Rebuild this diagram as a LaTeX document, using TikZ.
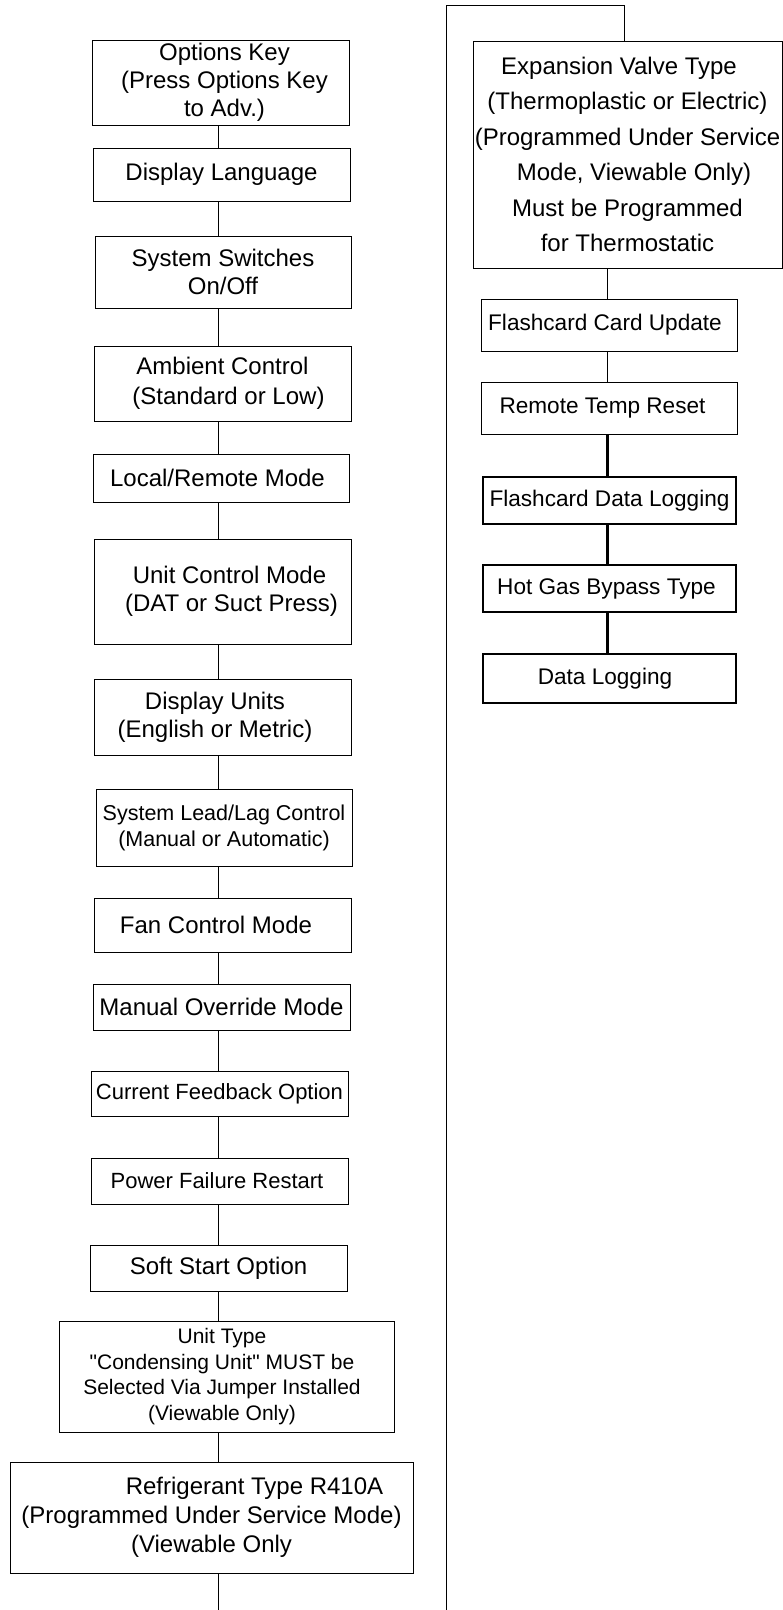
\documentclass[tikz,border=0pt]{standalone}
\usepackage{fontspec}
\setmainfont{Liberation Sans}

\newcommand{\lpad}[2]{\mbox{\hspace{#1}#2}}
\newcommand{\rpad}[2]{\mbox{#2\hspace{#1}}}

\begin{document}
\begin{tikzpicture}[x=1pt, y=-1pt,
    box/.style={draw, line width=1pt, inner sep=0pt, align=center, font=\fontsize{24}{28}\selectfont},
    thickbox/.style={box, line width=2.2pt, font=\fontsize{22.6}{28}\selectfont},
    link/.style={line width=1pt},
    thicklink/.style={line width=2.2pt}]
  \useasboundingbox (0,0) rectangle (783,1610);

  % left column
  \node[box, minimum width=257, minimum height=85] (opt) at (220.5,82.5)
    {\lpad{8pt}{Options Key}\\\lpad{8pt}{(Press Options Key}\\\lpad{8pt}{to Adv.)}};
  \node[box, minimum width=257, minimum height=53] (lang) at (221.5,174.5) {Display Language};
  \node[box, minimum width=256, minimum height=72] (sw) at (223,272) {System Switches\\On/Off};
  \node[box, minimum width=257, minimum height=75, font=\fontsize{24}{30}\selectfont] (amb) at (222.5,383.5)
    {Ambient Control\\\lpad{12pt}{(Standard or Low)}};
  \node[box, minimum width=256, minimum height=48] (loc) at (221,478) {\rpad{7pt}{Local/Remote Mode}};
  \node[box, minimum width=257, minimum height=105] (ucm) at (222.5,591.5)
    {\lpad{14pt}{Unit Control Mode}\\\lpad{18pt}{(DAT or Suct Press)}};
  \node[box, minimum width=257, minimum height=76] (du) at (222.5,717)
    {\rpad{15pt}{Display Units}\\\rpad{15pt}{(English or Metric)}};
  \node[box, minimum width=256, minimum height=77, font=\fontsize{21.5}{26}\selectfont] (lag) at (224,827.5)
    {System Lead/Lag Control\\(Manual or Automatic)};
  \node[box, minimum width=257, minimum height=54] (fan) at (222.5,925) {\rpad{13pt}{Fan Control Mode}};
  \node[box, minimum width=257, minimum height=46] (mor) at (221.5,1007) {Manual Override Mode};
  \node[box, minimum width=257, minimum height=45, font=\fontsize{22}{28}\selectfont] (cfo) at (219.5,1093.5)
    {Current Feedback Option};
  \node[box, minimum width=257, minimum height=46, font=\fontsize{22}{28}\selectfont] (pfr) at (219.5,1181)
    {\rpad{5pt}{Power Failure Restart}};
  \node[box, minimum width=257, minimum height=46] (sso) at (218.5,1268) {Soft Start Option};
  \node[box, minimum width=335, minimum height=111, font=\fontsize{21}{25.5}\selectfont] (ut) at (226.5,1376.5)
    {\rpad{9pt}{Unit Type}\\\rpad{9pt}{\textquotedbl Condensing Unit\textquotedbl{} MUST be}\\\rpad{9pt}{Selected Via Jumper Installed}\\\rpad{9pt}{(Viewable Only)}};
  \node[box, minimum width=403, minimum height=111, font=\fontsize{24}{29}\selectfont] (ref) at (211.5,1517.5)
    {\lpad{86pt}{Refrigerant Type R410A}\\(Programmed Under Service Mode)\\(Viewable Only};

  % right column
  \node[box, minimum width=309, minimum height=227, font=\fontsize{24}{35.5}\selectfont] (evt) at (627.5,154.5)
    {\rpad{17pt}{Expansion Valve Type}\\(Thermoplastic or Electric)\\(Programmed Under Service\\\lpad{13pt}{Mode, Viewable Only)}\\Must be Programmed\\for Thermostatic};
  \node[box, minimum width=256, minimum height=52, font=\fontsize{22.6}{28}\selectfont] (fcu) at (609,325)
    {\rpad{8pt}{Flashcard Card Update}};
  \node[box, minimum width=256, minimum height=52, font=\fontsize{22.6}{28}\selectfont] (rtr) at (609,408)
    {\rpad{13pt}{Remote Temp Reset}};
  \node[thickbox, minimum width=253, minimum height=47] (fdl) at (609.5,500.5) {Flashcard Data Logging};
  \node[thickbox, minimum width=253, minimum height=47] (hgb) at (609.5,588.5) {\rpad{6pt}{Hot Gas Bypass Type}};
  \node[thickbox, minimum width=253, minimum height=49] (dl) at (609.5,678.5) {\rpad{9pt}{Data Logging}};

  \coordinate (lspine) at (218,0);
  \coordinate (rspine) at (607.5,0);
  \coordinate (lout) at (218,1610);
  \coordinate (rin) at (446,1610);
  \coordinate (rtop) at (624,5);

  % connectors
  \foreach \first/\second in {opt/lang, lang/sw, sw/amb, amb/loc, loc/ucm, ucm/du, du/lag, lag/fan,
      fan/mor, mor/cfo, cfo/pfr, pfr/sso, sso/ut, ut/ref}
    \draw[link] (\first.south -| lspine) -- (\second.north -| lspine);
  \draw[link] (ref.south -| lspine) -- (lout);
  \draw[link] (rin) |- (rtop) -- (rtop |- evt.north);
  \foreach \first/\second in {evt/fcu, fcu/rtr}
    \draw[link] (\first.south -| rspine) -- (\second.north -| rspine);
  \foreach \first/\second in {rtr/fdl, fdl/hgb, hgb/dl}
    \draw[thicklink] (\first.south -| rspine) -- (\second.north -| rspine);
\end{tikzpicture}
\end{document}
